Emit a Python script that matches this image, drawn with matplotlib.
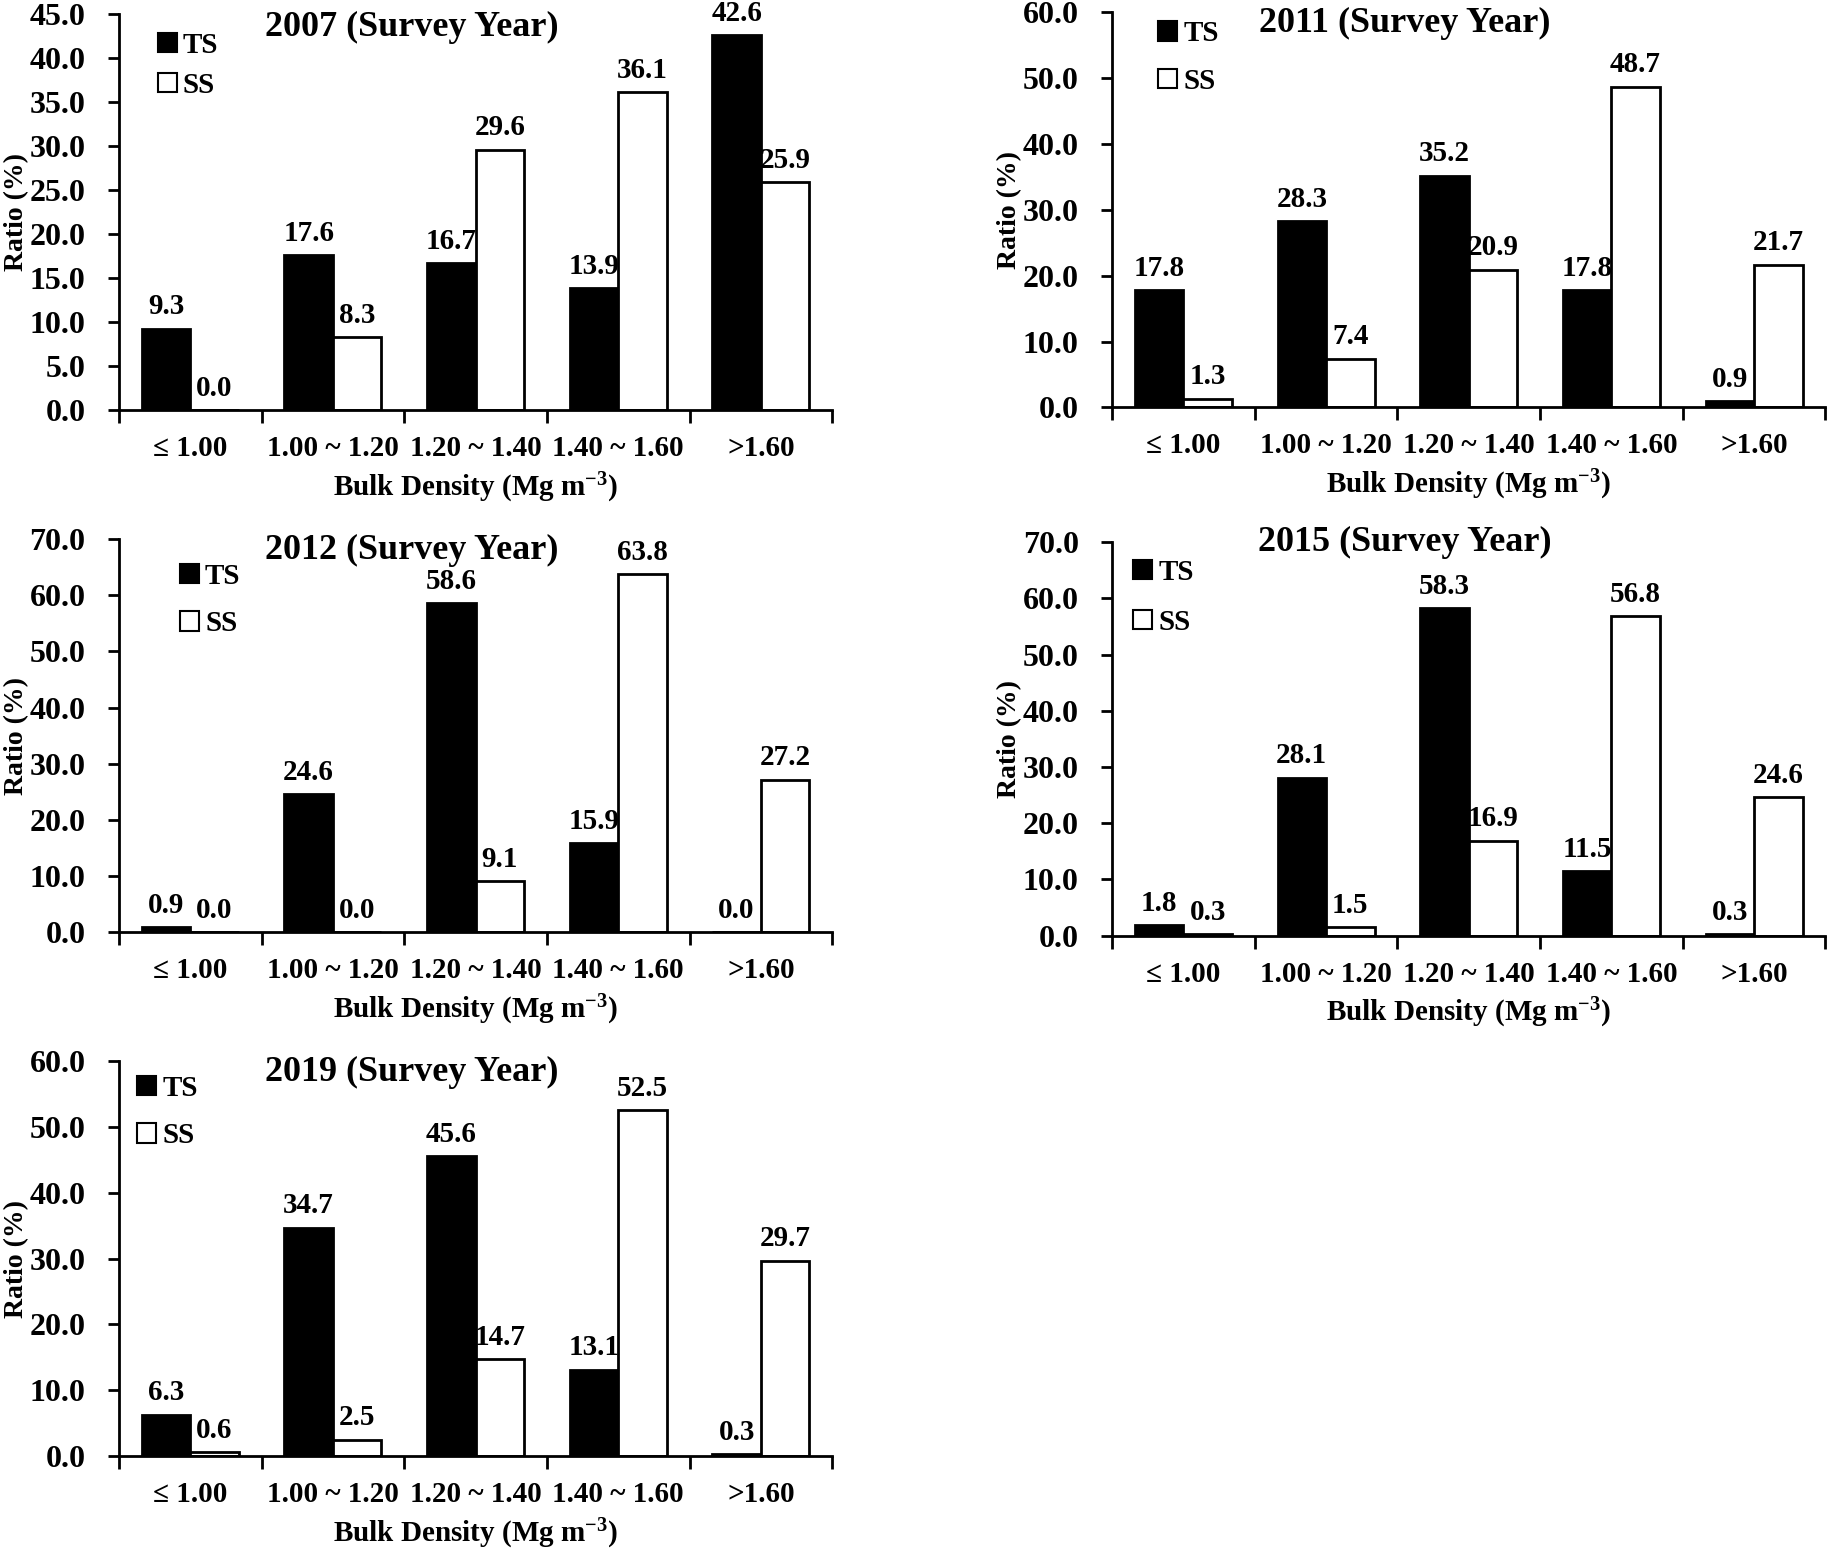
import matplotlib
matplotlib.use("Agg")
import matplotlib.pyplot as plt
from matplotlib.patches import Patch
from matplotlib.ticker import FixedLocator, NullFormatter
import numpy as np

plt.rcParams['font.family'] = ['Liberation Serif', 'DejaVu Serif']
plt.rcParams['font.weight'] = 'bold'
plt.rcParams['mathtext.fontset'] = 'custom'
plt.rcParams['mathtext.rm'] = 'Liberation Serif:bold'
plt.rcParams['mathtext.bf'] = 'Liberation Serif:bold'
plt.rcParams['mathtext.default'] = 'bf'

categories = ['\u2264 1.00', '1.00 ~ 1.20', '1.20 ~ 1.40', '1.40 ~ 1.60', '>1.60']

ts_2007 = [9.3, 17.6, 16.7, 13.9, 42.6]
ss_2007 = [0.0, 8.3, 29.6, 36.1, 25.9]
ts_2011 = [17.8, 28.3, 35.2, 17.8, 0.9]
ss_2011 = [1.3, 7.4, 20.9, 48.7, 21.7]
ts_2012 = [0.9, 24.6, 58.6, 15.9, 0.0]
ss_2012 = [0.0, 0.0, 9.1, 63.8, 27.2]
ts_2015 = [1.8, 28.1, 58.3, 11.5, 0.3]
ss_2015 = [0.3, 1.5, 16.9, 56.8, 24.6]
ts_2019 = [6.3, 34.7, 45.6, 13.1, 0.3]
ss_2019 = [0.6, 2.5, 14.7, 52.5, 29.7]

years = ['2007', '2011', '2012', '2015', '2019']
ymax = [45, 60, 70, 70, 60]
ystep = [5, 10, 10, 10, 10]

# axes rectangles in figure fractions
boxes = [
    [0.065, 0.735, 0.390, 0.256],
    [0.608, 0.737, 0.390, 0.255],
    [0.065, 0.398, 0.390, 0.254],
    [0.608, 0.396, 0.390, 0.254],
    [0.065, 0.060, 0.390, 0.255],
]
title_y = [0.965, 0.972, 0.972, 1.0, 0.972]
leg_x = [0.055, 0.065, 0.086, 0.03, 0.026]
leg_y = [0.955, 0.98, 0.94, 0.958, 0.965]
leg_sp = [0.45, 0.7, 0.7, 0.8, 0.7]

fig = plt.figure(figsize=(18.29, 15.49), dpi=100)

series = [(ts_2007, ss_2007), (ts_2011, ss_2011), (ts_2012, ss_2012),
          (ts_2015, ss_2015), (ts_2019, ss_2019)]

x = np.arange(len(categories))
w = 0.34
fs = 21

for i, (ts, ss) in enumerate(series):
    ax = fig.add_axes(boxes[i])
    b1 = ax.bar(x - w / 2, ts, w, color='black', edgecolor='black', linewidth=2)
    b2 = ax.bar(x + w / 2, ss, w, color='white', edgecolor='black', linewidth=2)
    ax.bar_label(b1, fmt='%.1f', padding=6, fontsize=fs, fontweight='bold')
    ax.bar_label(b2, fmt='%.1f', padding=6, fontsize=fs, fontweight='bold')

    ax.set_xlim(-0.5, len(categories) - 0.5)
    ax.set_ylim(0, ymax[i])
    yt = np.arange(0, ymax[i] + 0.1, ystep[i])
    ax.set_yticks(yt)
    ax.set_yticklabels(['%.1f' % v for v in yt])

    ax.xaxis.set_major_locator(FixedLocator(np.arange(-0.5, len(categories), 1.0)))
    ax.xaxis.set_major_formatter(NullFormatter())
    ax.xaxis.set_minor_locator(FixedLocator(x))
    ax.set_xticklabels(categories, minor=True)
    ax.tick_params(axis='x', which='major', direction='out', length=9, width=2)
    ax.tick_params(axis='x', which='minor', length=0, pad=18, labelsize=fs)
    ax.tick_params(axis='y', direction='out', length=8, width=2, labelsize=23, pad=16)

    for s in ['top', 'right']:
        ax.spines[s].set_visible(False)
    for s in ['left', 'bottom']:
        ax.spines[s].set_linewidth(2)

    ax.set_ylabel('Ratio (%)', fontsize=20, fontweight='bold')
    ax.yaxis.set_label_coords(-0.126, 0.5)
    ax.set_xlabel('Bulk Density (Mg m$^{-3}$)', fontsize=fs, fontweight='bold', labelpad=6)

    ax.text(0.41, title_y[i], years[i] + ' (Survey Year)', transform=ax.transAxes,
            ha='center', va='center', fontsize=26, fontweight='bold')

    handles = [Patch(facecolor='black', edgecolor='black', linewidth=1.5, label='TS'),
               Patch(facecolor='white', edgecolor='black', linewidth=1.5, label='SS')]
    ax.legend(handles=handles, loc='upper left', bbox_to_anchor=(leg_x[i], leg_y[i]),
              frameon=False, fontsize=fs, handlelength=0.65, handleheight=0.65,
              handletextpad=0.2, labelspacing=leg_sp[i], borderpad=0, borderaxespad=0)

fig.savefig('out.png', dpi=100)
